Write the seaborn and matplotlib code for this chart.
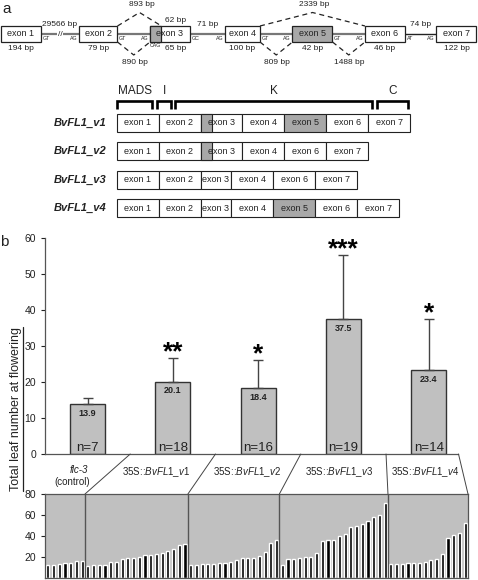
import numpy as np
import pandas as pd
import matplotlib
matplotlib.use('Agg')
import matplotlib.pyplot as plt
from matplotlib.patches import Rectangle
from matplotlib.lines import Line2D
import seaborn as sns

# ---- panel a: gene structure ----
exon_names = ['exon 1', 'exon 2', 'exon 3', 'exon 4', 'exon 5', 'exon 6', 'exon 7']
exon_sizes = ['194 bp', '79 bp', '65 bp', '100 bp', '42 bp', '46 bp', '122 bp']
exon3_short_size = '62 bp'
intron_sizes = ['29566 bp', '890 bp', '71 bp', '809 bp', '1488 bp', '74 bp']
donor_sites = ['GT', 'GT', 'GC', 'GT', 'GT', 'AT']
acceptor_sites = ['AG', 'AG', 'AG', 'AG', 'AG', 'AG']
alt_introns = [1, 3, 4]                     # introns with alternative splicing
skip_splices = [('893 bp', 1, 'short'), ('2339 bp', 3, 'skip')]
domains = ['MADS', 'I', 'K', 'C']
transcripts = {
    'BvFL1_v1': ['exon 1', 'exon 2', 'exon 3+', 'exon 4', 'exon 5', 'exon 6', 'exon 7'],
    'BvFL1_v2': ['exon 1', 'exon 2', 'exon 3+', 'exon 4', 'exon 6', 'exon 7'],
    'BvFL1_v3': ['exon 1', 'exon 2', 'exon 3', 'exon 4', 'exon 6', 'exon 7'],
    'BvFL1_v4': ['exon 1', 'exon 2', 'exon 3', 'exon 4', 'exon 5', 'exon 6', 'exon 7'],
}

# ---- panel b: flowering time ----
lines = ['flc-3', 'BvFL1_v1', 'BvFL1_v2', 'BvFL1_v3', 'BvFL1_v4']
mean_leaves = [13.9, 20.1, 18.4, 37.5, 23.4]
sd_leaves = [1.7, 6.6, 7.6, 17.6, 14.0]
n_plants = [7, 18, 16, 19, 14]
signif = ['', '**', '*', '***', '*']
leaves_flc3 = [12, 12, 13, 14, 14, 16, 16]
leaves_v1 = [11, 12, 12, 12, 15, 15, 18, 19, 19, 20, 22, 22, 23, 24, 26, 28, 31, 32]
leaves_v2 = [12, 12, 13, 13, 13, 14, 14, 15, 17, 19, 19, 19, 21, 25, 33, 36]
leaves_v3 = [12, 18, 18, 19, 20, 20, 24, 35, 36, 36, 40, 42, 49, 50, 51, 54, 58, 60, 71]
leaves_v4 = [13, 13, 13, 14, 14, 14, 15, 17, 18, 23, 38, 41, 43, 52]

sns.set_style('ticks')
plt.rcParams['font.family'] = ['Liberation Sans', 'DejaVu Sans']
plt.rcParams['mathtext.fontset'] = 'custom'
plt.rcParams['mathtext.rm'] = 'Liberation Sans'
plt.rcParams['mathtext.it'] = 'Liberation Sans:italic'

ink = '#222222'
grey_exon = '#a8a8a8'
grey_bar = '#c0c0c0'

W, H = 478, 580
fig = plt.figure(figsize=(W / 100, H / 100), dpi=100)

def px(x, y):
    # pixel from top-left -> figure fraction
    return x / W, 1 - y / H

# ================= panel a =================
ax_a = fig.add_axes([0, 1 - 225 / H, 1, 225 / H])
ax_a.set_xlim(0, W)
ax_a.set_ylim(225, 0)
ax_a.axis('off')

box_top, box_bot, mid_y = 26, 42, 34
exon_left = [1, 79, 150, 225, 292.5, 365, 436.5]
exon_width = [40, 38.5, 40, 35, 40, 40, 40]
cag_w = 11.5

for i, (name, size) in enumerate(zip(exon_names, exon_sizes)):
    x0, w = exon_left[i], exon_width[i]
    fc = grey_exon if name == 'exon 5' else 'white'
    ax_a.add_patch(Rectangle((x0, box_top), w, box_bot - box_top, fc=fc, ec=ink, lw=0.9, zorder=3))
    cx = x0 + w / 2
    if name == 'exon 3':
        ax_a.add_patch(Rectangle((x0, box_top), cag_w, box_bot - box_top, fc=grey_exon, ec=ink, lw=0.9, zorder=3))
        ax_a.text(x0 + cag_w / 2, box_bot + 3.5, 'CAG', fontsize=3.8, ha='center', va='center', color=ink)
        cx = x0 + cag_w + (w - cag_w) / 2
        ax_a.text(cx, box_top - 6, exon3_short_size, fontsize=6, ha='center', va='center', color=ink)
    ax_a.text(x0 + w / 2, (box_top + box_bot) / 2, name, fontsize=6.5, ha='center', va='center', color=ink, zorder=4)
    ax_a.text(cx, box_bot + 6, size, fontsize=6, ha='center', va='center', color=ink)

# introns
for i, size in enumerate(intron_sizes):
    a = exon_left[i] + exon_width[i]
    b = exon_left[i + 1]
    col = '#777777' if i < 5 else ink
    ax_a.plot([a, b], [mid_y, mid_y], color=col, lw=1.6 if i < 5 else 1.0, zorder=2)
    ax_a.text(a + 1.5, mid_y + 4, donor_sites[i], fontsize=3.8, ha='left', va='center', color=ink)
    ax_a.text(b - 1.5, mid_y + 4, acceptor_sites[i], fontsize=3.8, ha='right', va='center', color=ink)
    if i in alt_introns:
        m = (a + b) / 2
        ax_a.plot([a, m, b], [box_bot, 55, box_bot], color=ink, lw=0.9, ls=(0, (4, 3)))
        ax_a.text(m + 1, 62, size, fontsize=6, ha='center', va='center', color=ink)
    else:
        ax_a.text((a + b) / 2, box_top - 1, size, fontsize=6, ha='center', va='center', color=ink)
        if i == 0:
            ax_a.text((a + b) / 2, mid_y, '//', fontsize=6, ha='center', va='center', color=ink,
                      bbox=dict(fc='white', ec='none', pad=0.2))

for label, i, kind in skip_splices:
    a = exon_left[i] + exon_width[i]
    b = exon_left[i + 1] + cag_w if kind == 'short' else exon_left[i + 2]
    m = (a + b) / 2
    ax_a.plot([a, m, b], [box_top, 12.5, box_top], color=ink, lw=0.9, ls=(0, (4, 3)))
    ax_a.text(m + 2, 4.5, label, fontsize=6, ha='center', va='center', color=ink)

# domain brackets
domain_spans = [(116.7, 153.3), (156.5, 171.7), (174.5, 372.7), (376, 409.3)]
for dname, (x0, x1) in zip(domains, domain_spans):
    ax_a.plot([x0 + 0.8, x0 + 0.8, x1 - 0.8, x1 - 0.8], [108.5, 101, 101, 108.5], color='black', lw=1.9,
              solid_joinstyle='miter', solid_capstyle='butt')
    ax_a.text((x0 + x1) / 2, 91, dname, fontsize=8.5, ha='center', va='center', color=ink)

# transcripts
std_w, short_w, ext_w = 42, 30.5, 11
row_x0, row_h = 116.7, 18
row_y = [122.5, 151, 179.5, 208.3]
for (tname, parts), yc in zip(transcripts.items(), row_y):
    ax_a.text(107, yc, tname, ha='right', va='center', style='italic', weight='bold', fontsize=8, color=ink)
    x = row_x0
    for p in parts:
        with_cag = p.endswith('+')
        name = p.rstrip('+')
        w = std_w
        if name == 'exon 3':
            w = short_w + (ext_w if with_cag else 0)
        fc = grey_exon if name == 'exon 5' else 'white'
        ax_a.add_patch(Rectangle((x, yc - row_h / 2), w, row_h, fc=fc, ec=ink, lw=0.8))
        if with_cag:
            ax_a.add_patch(Rectangle((x, yc - row_h / 2), ext_w, row_h, fc=grey_exon, ec=ink, lw=0.8))
        ax_a.text(x + w / 2, yc, name, fontsize=6.5, ha='center', va='center', color=ink, zorder=4)
        x += w

fig.text(*px(2, 9), 'a', fontsize=11, ha='left', va='center', color=ink)

# ================= panel b =================
ax_b = fig.add_axes([45 / W, (H - 454) / H, (458.5 - 45) / W, (454 - 237.7) / H])
sns.barplot(x=lines, y=mean_leaves, ax=ax_b, color=grey_bar, saturation=1, width=0.41,
            edgecolor='#333333', linewidth=1, errorbar=None)
ax_b.errorbar(range(len(lines)), mean_leaves, yerr=[np.zeros(len(lines)), sd_leaves], fmt='none',
              ecolor='#444444', elinewidth=1, capsize=3.5, capthick=1, zorder=4)
ax_b.set_xlim(-0.5, 4.35)
ax_b.set_ylim(0, 60)
ax_b.set_yticks(range(0, 61, 10))
ax_b.set_xticks([])
ax_b.set_xlabel('')
ax_b.tick_params(axis='y', labelsize=7.5, length=3, width=0.8, colors=ink)
for s in ['top', 'right']:
    ax_b.spines[s].set_visible(False)
for s in ['left', 'bottom']:
    ax_b.spines[s].set_color('#555555')
    ax_b.spines[s].set_linewidth(0.9)

for i, (m, sd, n, st) in enumerate(zip(mean_leaves, sd_leaves, n_plants, signif)):
    ax_b.annotate(f'{m:.1f}', (i, m), xytext=(0, -3.5), textcoords='offset points',
                  ha='center', va='top', fontsize=6.5, weight='bold', color=ink)
    ax_b.annotate(f'n={n}', (i, 0), xytext=(0, 2), textcoords='offset points',
                  ha='center', va='baseline', fontsize=9.5, color=ink)
    if st:
        ax_b.annotate(st, (i, m + sd), xytext=(0, -1), textcoords='offset points',
                      ha='center', va='baseline', fontsize=19, weight='bold', color='black')

# individual plants
groups = [leaves_flc3, leaves_v1, leaves_v2, leaves_v3, leaves_v4]
plants = pd.DataFrame({'leaves': np.concatenate(groups)})
plants['plant'] = np.arange(len(plants))

ax_c = fig.add_axes([45 / W, (H - 578) / H, (468 - 45) / W, (578 - 494) / H])
ax_c.set_facecolor(grey_bar)
sns.barplot(data=plants, x='plant', y='leaves', ax=ax_c, color='black', saturation=1,
            width=0.55, errorbar=None)
bounds = np.cumsum([len(g) for g in groups]) - 0.5
for b in bounds[:-1]:
    ax_c.axvline(b, color='#555555', lw=1)
ax_c.set_xlim(-0.5, len(plants) - 0.5)
ax_c.set_ylim(0, 80)
ax_c.set_yticks([20, 40, 60, 80])
ax_c.set_xticks([])
ax_c.set_xlabel('')
ax_c.set_ylabel('')
ax_c.tick_params(axis='y', labelsize=7.5, length=3, width=0.8, colors=ink)
for s in ax_c.spines.values():
    s.set_color('#555555')
    s.set_linewidth(0.9)

# connector lines between group borders
to_fig = fig.transFigure.inverted()
top_x = [-0.5, 0.5, 1.5, 2.5, 3.5, ax_b.get_xlim()[1]]
bot_x = [-0.5] + list(bounds)
top_pts = to_fig.transform(ax_b.transData.transform([(x, 0) for x in top_x]))
bot_pts = to_fig.transform(ax_c.transData.transform([(x, 80) for x in bot_x]))
for k in range(1, len(top_pts)):
    fig.add_artist(Line2D([top_pts[k][0], bot_pts[k][0]], [top_pts[k][1], bot_pts[k][1]],
                          color='#444444', lw=0.7))

def mid_at(k, yf):
    t = (top_pts[0][1] - yf) / (top_pts[0][1] - bot_pts[0][1])
    left = top_pts[k][0] + (bot_pts[k][0] - top_pts[k][0]) * t
    right = top_pts[k + 1][0] + (bot_pts[k + 1][0] - top_pts[k + 1][0]) * t
    return (left + right) / 2

for k, name in enumerate(lines):
    if k == 0:
        y1 = px(0, 470)[1]
        y2 = px(0, 482)[1]
        fig.text(mid_at(k, y1), y1, name, style='italic', fontsize=7, ha='center', va='center', color=ink)
        fig.text(mid_at(k, y2), y2, '(control)', fontsize=7, ha='center', va='center', color=ink)
    else:
        y1 = px(0, 472.5)[1]
        lab = '35S::$\\mathit{' + name.replace('_', '\\_') + '}$'
        fig.text(mid_at(k, y1), y1, lab, fontsize=7, ha='center', va='center', color=ink)

ylab = fig.text(*px(16, 409), 'Total leaf number at flowering', rotation=90, fontsize=9,
                ha='center', va='center', color=ink)
fig.canvas.draw()
bb = ylab.get_window_extent().transformed(to_fig)
fig.add_artist(Line2D([bb.x1 + 0.5 / W, bb.x1 + 0.5 / W], [bb.y0, bb.y1], color=ink, lw=0.9))

fig.text(*px(4, 242), 'b', fontsize=11, ha='center', va='center', color=ink)

fig.savefig('out.png', dpi=100)
